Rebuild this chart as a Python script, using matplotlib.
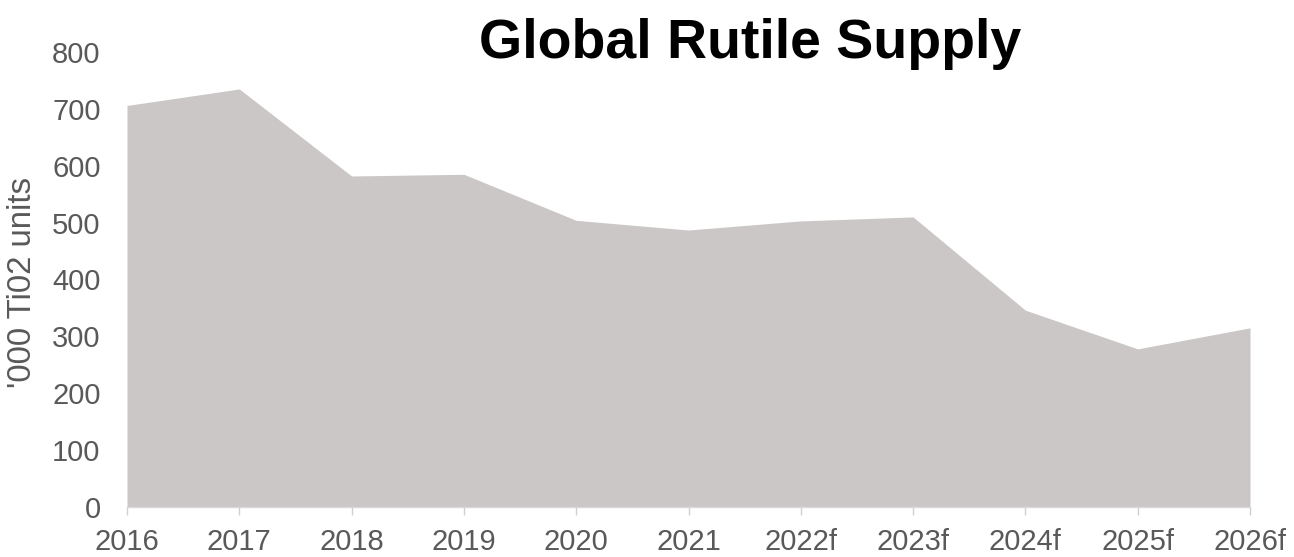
import matplotlib
matplotlib.use("Agg")
import matplotlib.pyplot as plt

categories = ["2016", "2017", "2018", "2019", "2020", "2021", "2022f", "2023f", "2024f", "2025f", "2026f"]
supply = [706, 735, 582, 585, 504, 487, 503, 510, 346, 278, 315]
yticks = [0, 100, 200, 300, 400, 500, 600, 700, 800]

plt.rcParams['font.family'] = ['Liberation Sans', 'DejaVu Sans']

fig = plt.figure(figsize=(12.94, 5.57), dpi=100)
ax = fig.add_axes([127/1294, 50/557, (1250-127)/1294, (507-52)/557])

x = list(range(len(categories)))
ax.fill_between(x, supply, 0, color="#cac7c6", linewidth=0)

ax.set_xlim(0, len(categories) - 1)
ax.set_ylim(0, 800)
ax.set_xticks(x)
ax.set_xticklabels(categories)
ax.set_yticks(yticks)

for s in ["top", "right", "left"]:
    ax.spines[s].set_visible(False)
ax.spines["bottom"].set_color("#d9d9d9")
ax.spines["bottom"].set_linewidth(1.0)

ax.tick_params(axis="x", colors="#d0d0d0", length=6, width=1, labelcolor="#595959", labelsize=21, pad=9)
ax.tick_params(axis="y", length=0, labelcolor="#595959", labelsize=21, pad=19)

ax.set_ylabel("'000 Ti02 units", fontsize=23.8, color="#595959")
ax.yaxis.set_label_coords(-0.079, 0.493)

fig.text(750/1294, 1 - 58/557, "Global Rutile Supply", fontsize=40, fontweight="bold",
         ha="center", va="baseline", color="black")

fig.savefig("out.png", dpi=100)
